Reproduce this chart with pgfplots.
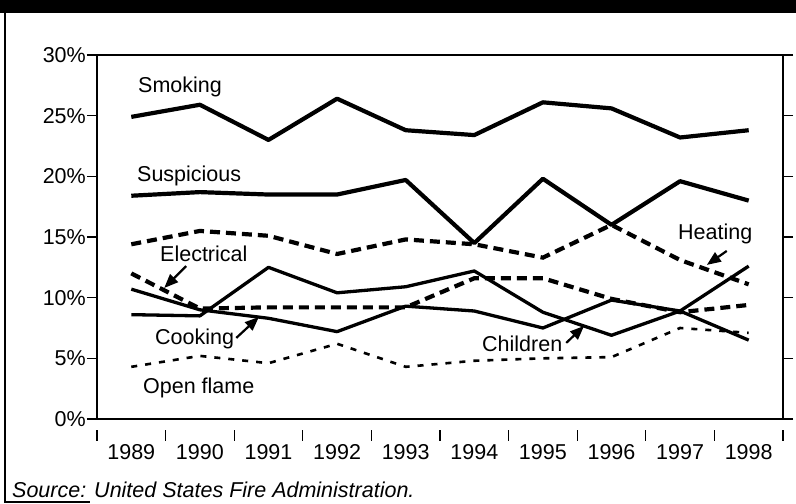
\documentclass[border=0pt]{standalone}
\usepackage{pgfplots}
\pgfplotsset{compat=1.18}
\usepackage{fontspec}
\setmainfont{Liberation Sans}
\usetikzlibrary{arrows.meta}
\begin{document}
\begin{tikzpicture}[font=\fontsize{21.5bp}{25bp}\selectfont]
\path[use as bounding box] (-97bp,-85bp) rectangle (699bp,419bp);
\fill[black] (-97bp,406bp) rectangle (699bp,419bp);
\draw[line width=1.5bp] (-92bp,406bp) -- (-92bp,-83bp) -- (-7bp,-83bp);
\begin{axis}[at={(0,0)}, anchor=south west, scale only axis,
  width=686bp, height=364bp,
  xmin=-0.5, xmax=9.5, ymin=0, ymax=30,
  xtick={0,1,2,3,4,5,6,7,8,9},
  xticklabels={1989,1990,1991,1992,1993,1994,1995,1996,1997,1998},
  ytick={0,5,10,15,20,25,30},
  yticklabels={0\%,5\%,10\%,15\%,20\%,25\%,30\%},
  ytick align=outside, xtick style={draw=none},
  major tick length=10bp, ytick style={line width=1.2bp, black},
  xticklabel style={anchor=base, yshift=-40bp},
  yticklabel style={inner sep=1bp},
  tick label style={font=\fontsize{21.5bp}{25bp}\selectfont},
  axis line style={line width=1.5bp}, clip=false]
% Smoking
\addplot[line width=4.2bp, line join=round] coordinates {
(0,24.9)(1,25.9)(2,23.0)(3,26.4)(4,23.8)(5,23.4)(6,26.1)(7,25.6)(8,23.2)(9,23.8)};
% Suspicious
\addplot[line width=4.2bp, line join=round] coordinates {
(0,18.4)(1,18.7)(2,18.5)(3,18.5)(4,19.7)(5,14.5)(6,19.8)(7,16.0)(8,19.6)(9,18.0)};
% Heating
\addplot[line width=4.2bp, dash pattern=on 10bp off 6bp] coordinates {
(0,14.4)(1,15.5)(2,15.1)(3,13.6)(4,14.8)(5,14.4)(6,13.3)(7,16.0)(8,13.1)(9,11.1)};
% Electrical
\addplot[line width=4.2bp, dash pattern=on 10bp off 6bp] coordinates {
(0,12.0)(1,9.1)(2,9.2)(3,9.2)(4,9.2)(5,11.6)(6,11.6)(7,9.9)(8,8.8)(9,9.4)};
% Cooking
\addplot[line width=3.3bp, line join=round] coordinates {
(0,10.7)(1,9.0)(2,8.3)(3,7.2)(4,9.3)(5,8.9)(6,7.5)(7,9.8)(8,8.9)(9,6.5)};
% Children
\addplot[line width=3.3bp, line join=round] coordinates {
(0,8.6)(1,8.5)(2,12.5)(3,10.4)(4,10.9)(5,12.2)(6,8.8)(7,6.9)(8,8.9)(9,12.6)};
% Open flame
\addplot[line width=2.6bp, dash pattern=on 6bp off 8bp] coordinates {
(0,4.3)(1,5.2)(2,4.6)(3,6.2)(4,4.3)(5,4.8)(6,5.0)(7,5.1)(8,7.5)(9,7.1)};
% arrows
\draw[line width=2.2bp, -{Triangle[length=14bp,width=11bp]}] (axis cs:0.80,12.6) -- (axis cs:0.48,10.8);
\draw[line width=2.2bp, -{Triangle[length=14bp,width=11bp]}] (axis cs:1.53,6.68) -- (axis cs:1.86,8.41);
\draw[line width=2.2bp, -{Triangle[length=14bp,width=11bp]}] (axis cs:6.34,6.27) -- (axis cs:6.60,7.67);
\draw[line width=2.2bp, -{Triangle[length=14bp,width=11bp]}] (axis cs:8.68,13.85) -- (axis cs:8.39,12.7);
\end{axis}
\draw[line width=2.5bp] (0,364bp) -- (0,0) -- (686bp,0);
\foreach \k in {0,...,10} \draw[line width=1.2bp] (\k*68.6bp,-11bp) -- (\k*68.6bp,-22bp);
\begin{scope}[every node/.style={anchor=base west, inner sep=0pt}]
\node at (41bp,326bp) {Smoking};
\node at (40bp,237bp) {Suspicious};
\node at (63bp,157bp) {Electrical};
\node at (58bp,74bp) {Cooking};
\node at (46bp,26bp) {Open flame};
\node at (385bp,67bp) {Children};
\node at (581bp,179bp) {Heating};
\node at (-85bp,-78bp) {\itshape Source: United States Fire Administration.};
\end{scope}
\end{tikzpicture}
\end{document}
